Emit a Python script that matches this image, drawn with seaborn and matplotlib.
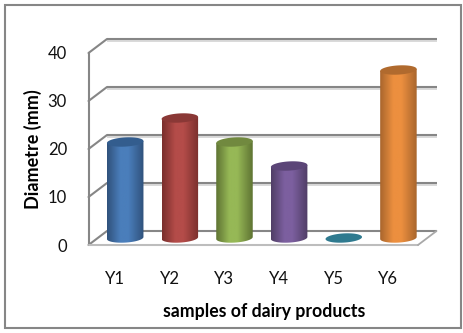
import numpy as np
import pandas as pd
import matplotlib
matplotlib.use("Agg")
import matplotlib.pyplot as plt
import seaborn as sns
from matplotlib.colors import LinearSegmentedColormap, to_rgb
from matplotlib.patches import PathPatch, Polygon, Rectangle
from matplotlib.path import Path

samples = ["Y1", "Y2", "Y3", "Y4", "Y5", "Y6"]
diameters = [20, 25, 20, 15, 0, 35]
mid_colors = ["#4a7ebb", "#b44c49", "#96b856", "#7c5f9f", "#31859c", "#ec8f3f"]
edge_colors = ["#30527c", "#7a2f2d", "#5f7433", "#503e66", "#215968", "#a9662d"]
top_colors = ["#335d8e", "#8a3836", "#71893f", "#5b4577", "#2f7a8f", "#b06a2e"]
y_ticks = [0, 10, 20, 30, 40]

W, H = 464, 333
sns.set_style("white")
plt.rcParams["font.family"] = ["Lato", "DejaVu Sans"]
fig = plt.figure(figsize=(W / 100, H / 100), dpi=100)

# plot box = front plane of the 3-D frame, in reference pixels
L, R, T, B = 88.5, 418.0, 53.0, 245.0
ax = fig.add_axes([L / W, 1 - B / H, (R - L) / W, (B - T) / H])

df = pd.DataFrame({"sample": samples, "diameter": diameters})
bar_w = 0.668
sns.barplot(data=df, x="sample", y="diameter", hue="sample", palette=mid_colors,
            width=bar_w, dodge=False, legend=False, ax=ax, saturation=1, zorder=3)

px_x = (R - L) / 6.03
px_y = (B - T) / 40.0
x0, x1 = -0.485, -0.485 + 6.03
ax.set_xlim(x0, x1)
ax.set_ylim(0, 40)

# depth of the frame and of the bar row, in data units
back_dx, back_dy = 18.5 / px_x, 14 / px_y
bar_dx, bar_dy = 10.2 / px_x, 7 / px_y
ell_b = 4.6 / px_y
tilt = 1.0 / px_y / (bar_w / 2)   # rise of the ellipse towards its right end


def ellipse_pts(cx, cy, ts):
    ex = bar_w / 2 * np.cos(ts)
    return np.column_stack([cx + ex, cy + ell_b * np.sin(ts) + tilt * ex])


# frame
GRID = "#868686"
for v in y_ticks:
    by = v + back_dy
    if v > 0:
        ax.plot([x0 + back_dx, x1 + back_dx], [by - 1.6 / px_y] * 2, color="#cfcfcf", lw=1.1,
                zorder=1, clip_on=False, solid_capstyle="butt")
    ax.plot([x0 + back_dx, x1 + back_dx], [by, by], color=GRID, lw=1.5, zorder=1.1,
            clip_on=False, solid_capstyle="butt")
    ax.plot([x0, x0 + back_dx], [v, by], color=GRID, lw=1.5, zorder=1.1, clip_on=False)
ax.plot([x0, x0], [0, 40], color=GRID, lw=1.5, zorder=1.2, clip_on=False)
ax.plot([x0, x1], [0, 0], color="#bdbdbd", lw=1.5, zorder=1.2, clip_on=False)
ax.plot([x1, x1 + back_dx], [0, back_dy], color="#a8a8a8", lw=1.3, zorder=1.2, clip_on=False)

# cylinders built on the bars that seaborn drew
full = np.linspace(0, 2 * np.pi, 60)
lower = np.linspace(np.pi, 2 * np.pi, 40)
for patch, val, mid, edge, top in zip(ax.patches, diameters, mid_colors, edge_colors, top_colors):
    patch.set_x(patch.get_x() + bar_dx)
    patch.set_y(bar_dy)
    patch.set_clip_on(False)
    patch.set_visible(False)
    xa = patch.get_x()
    xb = xa + patch.get_width()
    cx = (xa + xb) / 2
    ytop = bar_dy + val
    if val > 0:
        cmap = LinearSegmentedColormap.from_list(
            "cyl", [(0, to_rgb(edge)), (0.36, to_rgb(mid)), (0.58, to_rgb(mid)), (1, to_rgb(edge))])
        grad = np.linspace(0, 1, 64)[None, :]
        arc = ellipse_pts(cx, bar_dy, lower)
        up = ellipse_pts(cx, ytop, np.array([0.0, np.pi]))
        body = Path(np.vstack([arc, up, arc[:1]]))
        im = ax.imshow(grad, cmap=cmap, extent=(xa, xb, bar_dy - 3 * ell_b, ytop + 3 * ell_b),
                       aspect="auto", zorder=3.5)
        im.set_clip_path(PathPatch(body, transform=ax.transData))
    ax.add_patch(Polygon(ellipse_pts(cx, ytop, full), closed=True, facecolor=top,
                         edgecolor="none", zorder=4, clip_on=False))

ax.set_xlim(x0, x1)
ax.set_ylim(0, 40)
ax.set_aspect("auto")
sns.despine(ax=ax, left=True, bottom=True, top=True, right=True)
ax.set_yticks(y_ticks)
ax.tick_params(axis="both", length=0, labelsize=12, labelcolor="#111111")
ax.tick_params(axis="y", pad=15.5)
ax.tick_params(axis="x", pad=19)
ax.grid(False)
ax.patch.set_alpha(0)

ax.set_xlabel("samples of dairy products", fontsize=12.7, fontweight="bold", color="black")
ax.set_ylabel("Diametre (mm)", fontsize=13, fontweight="bold", color="black")
ax.xaxis.set_label_coords((264 - L) / (R - L), -(312 - B) / (B - T), transform=ax.transAxes)
ax.yaxis.set_label_coords(-(L - 32.5) / (R - L), 0.5, transform=ax.transAxes)
ax.xaxis.label.set_verticalalignment("center")
ax.yaxis.label.set_verticalalignment("center")

# outer chart border
fig.add_artist(Rectangle((5.5 / W, 1 - 328 / H), 455.5 / W, 323.5 / H, transform=fig.transFigure,
                         fill=False, edgecolor=GRID, lw=1.5))

fig.savefig("out.png", dpi=100, facecolor="white")
